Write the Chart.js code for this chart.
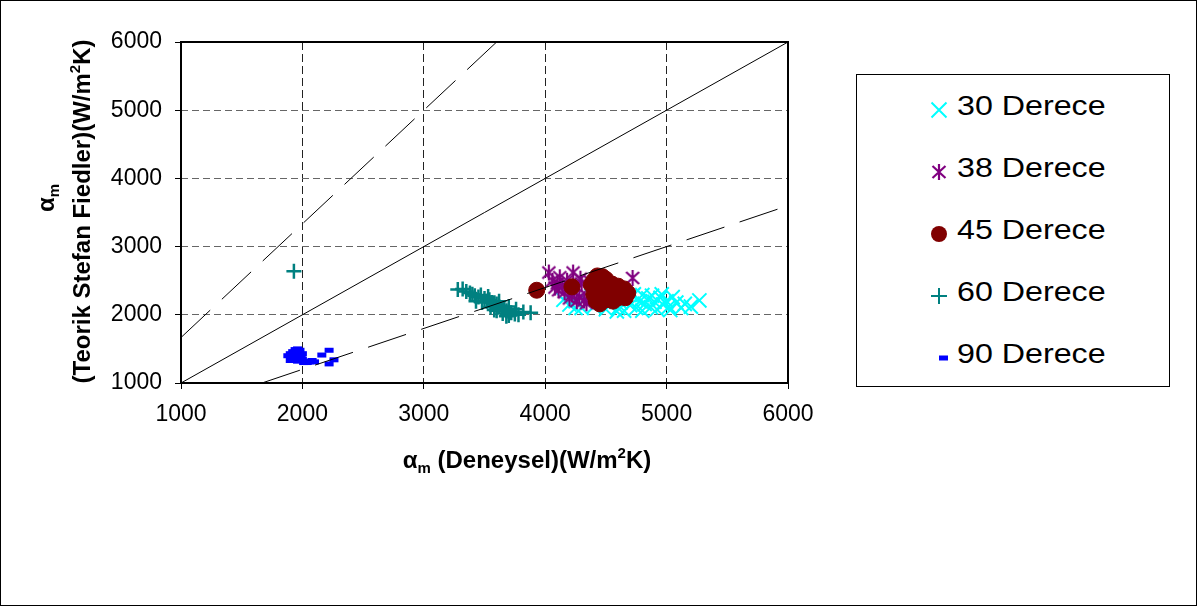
<!DOCTYPE html>
<html>
<head>
<meta charset="utf-8">
<script src="https://cdn.jsdelivr.net/npm/chart.js@4.4.0/dist/chart.umd.min.js"></script>
<style>
  html, body { margin: 0; padding: 0; background: #fff; }
  #wrap { position: relative; width: 1197px; height: 606px; overflow: hidden; }
  #chart { position: absolute; left: 0; top: 0; }
  #frame { position: absolute; left: 0; top: 0; width: 1197px; height: 606px; box-sizing: border-box; border: 1px solid #000; pointer-events: none; }
  #legend { position: absolute; left: 856px; top: 74px; width: 314px; height: 313px; box-sizing: border-box; border: 1px solid #000; background: #fff; }
  .item { position: absolute; left: 0; width: 100%; height: 40px; }
  .item canvas { position: absolute; top: 10px; }
  .item span { position: absolute; left: 100px; top: 0; line-height: 40px; font: 28px Arial, "Liberation Sans", sans-serif; color: #000; white-space: nowrap; transform: scaleX(1.15); transform-origin: left center; }
</style>
</head>
<body>
<div id="wrap">
  <canvas id="chart" width="1197" height="606"></canvas>
  <div id="legend"></div>
  <div id="frame"></div>
</div>
<script>
// series names and colours
const seriesNames = ["30 Derece", "38 Derece", "45 Derece", "60 Derece", "90 Derece"];
const seriesColors = ["#00FFFF", "#800080", "#800000", "#008080", "#0000FF"];

// axis ticks
const xTicks = [1000, 2000, 3000, 4000, 5000, 6000];
const yTicks = [1000, 2000, 3000, 4000, 5000, 6000];

// measured (x) vs theoretical (y) heat transfer coefficients
const deg30 = [[4200,2150],[4250,2200],[4300,2100],[4350,2180],[4400,2120],[4450,2250],[4500,2080],[4520,2160],
  [4560,2230],[4600,2100],[4620,2180],[4650,2060],[4680,2220],[4700,2140],[4720,2280],[4750,2100],[4780,2200],
  [4800,2060],[4820,2160],[4850,2240],[4870,2110],[4900,2190],[4920,2080],[4950,2250],[4970,2150],[5000,2200],
  [5020,2120],[5050,2260],[5080,2180],[5120,2100],[5150,2160],[5200,2120],[5270,2210],[4550,2300],[4480,2190],
  [4380,2280],[4730,2300],[4880,2280],[4660,2290],[4960,2300],[4800,2290],[4590,2050],[4250,2100],[4150,2220],[5030,2070]];
const deg38 = [[4030,2620],[4230,2620],[4720,2540],[4060,2500],[4100,2460],[4140,2420],[4190,2380],[4240,2340],
  [4120,2550],[4180,2500],[4300,2460],[4220,2300],[4280,2260],[4320,2210],[4350,2270],[4080,2400],[4160,2330],
  [4290,2530],[4370,2490],[4400,2350],[4260,2200],[4200,2240],[4340,2170],[4110,2360],[4250,2420]];
const deg45 = [[3930,2360],[4220,2410],[4430,2570],[4470,2560],[4400,2500],[4450,2480],[4500,2520],[4550,2450],
  [4600,2420],[4650,2380],[4680,2320],[4420,2400],[4480,2380],[4530,2350],[4580,2330],[4620,2280],[4400,2300],
  [4450,2250],[4500,2220],[4560,2200],[4450,2160],[4600,2250],[4660,2250],[4420,2200],[4520,2280],[4380,2440]];
const deg60 = [[1930,2640],[3280,2370],[3320,2380],[3350,2340],[3380,2320],[3400,2300],[3420,2280],[3450,2260],
  [3470,2290],[3500,2240],[3520,2200],[3540,2220],[3560,2180],[3580,2150],[3600,2160],[3620,2120],[3640,2100],
  [3660,2080],[3680,2060],[3700,2050],[3720,2030],[3750,2010],[3780,2000],[3820,2040],[3880,2030],[3550,2110],
  [3600,2060],[3650,2020],[3700,1990],[3480,2180],[3430,2200],[3530,2270],[3620,2200],[3700,2120],[3760,2080],
  [3580,2070],[3680,1980]];
const deg90 = [[1880,1400],[1900,1430],[1920,1460],[1940,1490],[1960,1500],[1980,1480],[1910,1370],[1930,1340],
  [1950,1360],[1970,1420],[1990,1390],[2000,1350],[2020,1320],[2040,1300],[2060,1310],[2080,1330],[1960,1320],
  [1900,1330],[1940,1400],[2000,1430],[2010,1300],[2100,1310],[2160,1410],[2220,1480],[2260,1340],[2220,1280]];

// reference lines: y = x and +/-40 %
const refEqual = [[1000, 1000], [6000, 6000]];
const refUpper = [[1000, 1667], [3600, 6000]];
const refLower = [[1667, 1000], [6000, 3600]];

const toXY = arr => arr.map(p => ({ x: p[0], y: p[1] }));

// asterisk marker for 38 Derece
function makeAsterisk(color) {
  const c = document.createElement("canvas");
  c.width = 18; c.height = 18;
  const g = c.getContext("2d");
  g.strokeStyle = color; g.lineWidth = 2.2;
  g.beginPath();
  g.moveTo(2.5, 3); g.lineTo(15.5, 15);
  g.moveTo(15.5, 3); g.lineTo(2.5, 15);
  g.moveTo(9, 1); g.lineTo(9, 17);
  g.stroke();
  return c;
}
const asterisk = makeAsterisk(seriesColors[1]);

const markerStyles = [
  { pointStyle: "crossRot", pointRadius: 10, pointBorderWidth: 2 },
  { pointStyle: asterisk, pointRadius: 9, pointBorderWidth: 1 },
  { pointStyle: "circle", pointRadius: 8, pointBorderWidth: 1 },
  { pointStyle: "cross", pointRadius: 7.5, pointBorderWidth: 2.5 },
  { pointStyle: "line", pointRadius: 4.5, pointBorderWidth: 5 }
];

const seriesData = [deg30, deg38, deg45, deg60, deg90];
const scatterSets = seriesData.map((d, i) => Object.assign({
  label: seriesNames[i],
  data: toXY(d),
  borderColor: seriesColors[i],
  backgroundColor: seriesColors[i],
  showLine: false,
  order: 10 - i
}, markerStyles[i]));

function refLine(d, dash) {
  return {
    label: "",
    data: toXY(d),
    showLine: true,
    borderColor: "#000",
    borderWidth: 1,
    borderDash: dash,
    pointRadius: 0,
    fill: false,
    order: 0
  };
}

// axis titles with sub/superscripts
const xTitle = [{ t: "α" }, { t: "m", sub: true }, { t: " (Deneysel)(W/m" }, { t: "2", sup: true }, { t: "K)" }];
const yTitle1 = [{ t: "α" }, { t: "m", sub: true }];
const yTitle2 = [{ t: "(Teorik Stefan Fiedler)(W/m" }, { t: "2", sup: true }, { t: "K)" }];

function partFont(p) {
  return (p.sub || p.sup) ? 'bold 15px Arial, "Liberation Sans", sans-serif' : 'bold 24px Arial, "Liberation Sans", sans-serif';
}
function drawRich(ctx, parts, cx, base) {
  let total = 0;
  parts.forEach(p => { ctx.font = partFont(p); total += ctx.measureText(p.t).width; });
  let x = cx - total / 2;
  parts.forEach(p => {
    ctx.font = partFont(p);
    const dy = p.sub ? 5 : (p.sup ? -10 : 0);
    ctx.fillText(p.t, x, base + dy);
    x += ctx.measureText(p.t).width;
  });
}

const decorPlugin = {
  id: "decor",
  afterDraw(chart) {
    const { ctx, chartArea } = chart;
    ctx.save();
    ctx.strokeStyle = "#000";
    ctx.lineWidth = 2;
    ctx.strokeRect(chartArea.left, chartArea.top, chartArea.right - chartArea.left, chartArea.bottom - chartArea.top);
    ctx.fillStyle = "#000";
    ctx.textAlign = "left";
    ctx.textBaseline = "alphabetic";
    drawRich(ctx, xTitle, 527, 468);
    ctx.save();
    ctx.translate(54, 198);
    ctx.rotate(-Math.PI / 2);
    drawRich(ctx, yTitle1, 0, 0);
    ctx.restore();
    ctx.save();
    ctx.translate(90, 211.5);
    ctx.rotate(-Math.PI / 2);
    drawRich(ctx, yTitle2, 0, 0);
    ctx.restore();
    ctx.restore();
  }
};

const tickFont = { family: 'Arial, "Liberation Sans", sans-serif', size: 23 };
const hideEdge = c => (c.tick && (c.tick.value === 1000 || c.tick.value === 6000)) ? "rgba(0,0,0,0)" : null;

new Chart(document.getElementById("chart"), {
  type: "scatter",
  data: {
    datasets: scatterSets.concat([
      refLine(refEqual, []),
      refLine(refUpper, [40, 16]),
      refLine(refLower, [40, 16])
    ])
  },
  options: {
    responsive: false,
    animation: false,
    events: [],
    layout: { padding: { left: 0, top: 42, right: 409, bottom: 0 } },
    plugins: { legend: { display: false }, tooltip: { enabled: false } },
    scales: {
      x: {
        type: "linear", min: 1000, max: 6000,
        afterBuildTicks: s => { s.ticks = xTicks.map(v => ({ value: v })); },
        afterFit: s => { s.height = 223; },
        ticks: { font: tickFont, color: "#000", padding: 12, maxRotation: 0, callback: v => String(v) },
        grid: { color: c => hideEdge(c) || "#222", lineWidth: 1, tickLength: 6, tickColor: "#000", tickWidth: 1 },
        border: { display: false, dash: [8, 4] }
      },
      y: {
        type: "linear", min: 1000, max: 6000,
        afterBuildTicks: s => { s.ticks = yTicks.map(v => ({ value: v })); },
        afterFit: s => { s.width = 181; },
        ticks: { font: tickFont, color: "#000", padding: 13, callback: v => String(v) },
        grid: { color: c => hideEdge(c) || "#666", lineWidth: 1, tickLength: 6, tickColor: "#000", tickWidth: 1 },
        border: { display: false, dash: [7, 4] }
      }
    }
  },
  plugins: [decorPlugin]
});

// legend box
const legendRows = [110, 172, 234, 296, 358];
const legendEl = document.getElementById("legend");
function drawLegendMarker(g, i) {
  const col = seriesColors[i];
  g.strokeStyle = col; g.fillStyle = col;
  g.beginPath();
  if (i === 0) {
    g.lineWidth = 2;
    g.moveTo(2.5, 2.5); g.lineTo(17.5, 17.5); g.moveTo(17.5, 2.5); g.lineTo(2.5, 17.5); g.stroke();
  } else if (i === 1) {
    g.drawImage(asterisk, 1, 1);
  } else if (i === 2) {
    g.arc(10, 10, 8, 0, Math.PI * 2); g.fill();
  } else if (i === 3) {
    g.lineWidth = 2;
    g.moveTo(2, 10); g.lineTo(18, 10); g.moveTo(10, 2); g.lineTo(10, 18); g.stroke();
  } else {
    g.fillRect(10, 7.5, 9, 5);
  }
}
seriesNames.forEach((name, i) => {
  const row = document.createElement("div");
  row.className = "item";
  row.style.top = (legendRows[i] - 75 - 20) + "px";
  const c = document.createElement("canvas");
  c.width = 20; c.height = 20;
  c.style.left = (939 - 857 - 10) + "px";
  drawLegendMarker(c.getContext("2d"), i);
  const s = document.createElement("span");
  s.textContent = name;
  row.appendChild(c);
  row.appendChild(s);
  legendEl.appendChild(row);
});
</script>
</body>
</html>
